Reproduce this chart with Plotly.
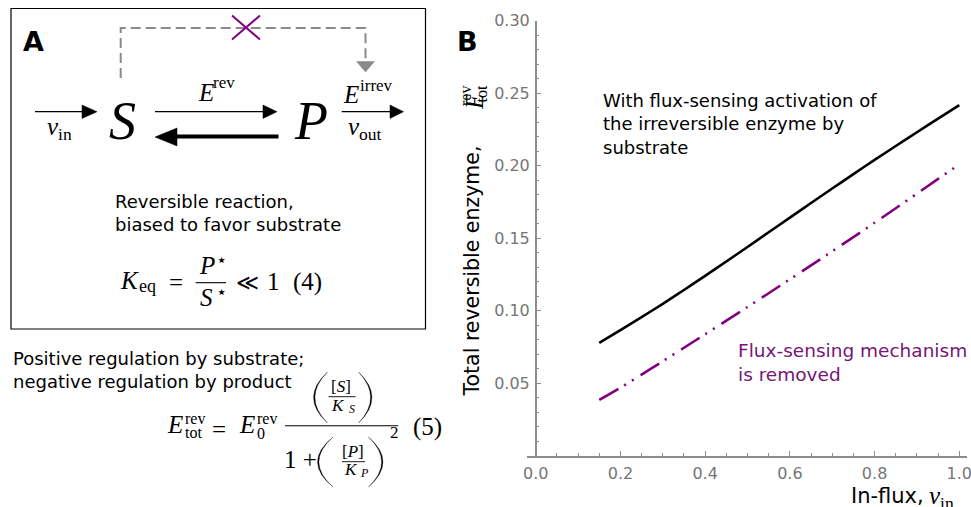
import plotly.graph_objects as go

# ---------------- data ----------------
influx = [0.15, 0.20, 0.25, 0.30, 0.35, 0.40, 0.45, 0.50, 0.55, 0.60,
          0.65, 0.70, 0.75, 0.80, 0.85, 0.90, 0.95, 1.00]
e_tot_flux_sensing = [0.0778, 0.0866, 0.0956, 0.1048, 0.1143, 0.1241, 0.1340, 0.1440, 0.1541, 0.1642,
                      0.1743, 0.1843, 0.1942, 0.2040, 0.2136, 0.2231, 0.2325, 0.2418]
e_tot_no_sensing = [0.0385, 0.0470, 0.0560, 0.0652, 0.0745, 0.0838, 0.0932, 0.1026, 0.1121, 0.1217,
                    0.1313, 0.1410, 0.1508, 0.1607, 0.1707, 0.1808, 0.1909, 0.2010]
x_tick_values = [0.0, 0.2, 0.4, 0.6, 0.8, 1.0]
x_tick_labels = ["0.0", "0.2", "0.4", "0.6", "0.8", "1.0"]
y_tick_values = [0.05, 0.10, 0.15, 0.20, 0.25, 0.30]
y_tick_labels = ["0.05", "0.10", "0.15", "0.20", "0.25", "0.30"]

# ---------------- style ----------------
W, H = 971, 507
SANS = "DejaVu Sans"
SERIF = "Liberation Serif"
PURPLE = "#800080"
PURPLE_TXT = "#761576"
AXIS_GRAY = "#8c8c8c"
TICK_GRAY = "#757575"


def px(x):
    return x / W


def py(y):
    return 1 - y / H


annotations = []
shapes = []


def ann(x, y, text, size, family=SANS, color="black", xa="center", ya="middle",
        angle=0, align="left"):
    annotations.append(dict(
        x=px(x), y=py(y), xref="paper", yref="paper", text=text, showarrow=False,
        font=dict(size=size, family=family, color=color), xanchor=xa, yanchor=ya,
        textangle=angle, align=align, borderpad=0, borderwidth=0))


def seg(x0, y0, x1, y1, color="black", width=1.3, dash=None):
    ln = dict(color=color, width=width)
    if dash:
        ln["dash"] = dash
    shapes.append(dict(type="line", xref="paper", yref="paper",
                       x0=px(x0), y0=py(y0), x1=px(x1), y1=py(y1), line=ln))


def path(cmds, color="black", fill=None, width=1.0, dash=None):
    out = []
    for c in cmds:
        if isinstance(c, str):
            out.append(c)
        else:
            out.append("%.5f,%.5f" % (px(c[0]), py(c[1])))
    ln = dict(color=color, width=width)
    if dash:
        ln["dash"] = dash
    d = dict(type="path", xref="paper", yref="paper", path=" ".join(out), line=ln)
    if fill:
        d["fillcolor"] = fill
    shapes.append(d)


def tri(p1, p2, p3, color="black"):
    path(["M", p1, "L", p2, "L", p3, "Z"], color=color, fill=color, width=0.5)


def paren(xt, xb, yt, yb, thick=1.4):
    # crescent-shaped parenthesis; xt = tips x, xb = bulge x
    ym = (yt + yb) / 2
    sgn = 1 if xb < xt else -1
    c_out = 2 * xb - xt
    c_in = 2 * (xb + sgn * thick) - xt
    path(["M", (xt, yt), "Q", (c_out, ym), (xt, yb), "Q", (c_in, ym), (xt, yt), "Z"],
         color="black", fill="black", width=0.3)


# ---------------- panel A diagram ----------------
shapes.append(dict(type="rect", xref="paper", yref="paper", x0=px(11), y0=py(329),
                   x1=px(425.5), y1=py(8.5), line=dict(color="black", width=1.2)))
ann(33, 42, "<b>A</b>", 27)

# dashed feedback (removed)
path(["M", (120.7, 78), "L", (120.7, 28), "L", (365.5, 28), "L", (365.5, 62)],
     color="#8a8a8a", width=2, dash="10px,5px")
tri((356.5, 61.5), (374.5, 61.5), (365.5, 72), color="#8a8a8a")
seg(232, 15.5, 260, 39.5, color=PURPLE, width=2)
seg(232, 39.5, 260, 15.5, color=PURPLE, width=2)

# influx arrow
seg(35, 111.7, 84, 111.7)
tri((82, 105), (97, 111.7), (82, 118.4))
ann(59, 129, "<i>ν</i><sub>in</sub>", 25, SERIF)

ann(122.5, 121, "<i>S</i>", 54, SERIF)
ann(311, 121, "<i>P</i>", 54, SERIF)

# forward reversible arrow
seg(155, 111.7, 265, 111.7)
tri((263, 105), (277, 111.7), (263, 118.4))
ann(198, 92, "<i>E</i>", 25, SERIF, xa="left")
ann(213, 83, "rev", 17, SERIF, xa="left")

# backward (favoured) arrow
seg(278.5, 136.5, 172, 136.5, width=4.2)
tri((177, 128), (155, 137), (177, 146))

# outflux arrow
seg(341.7, 111.7, 392, 111.7)
tri((390, 105), (403.5, 111.7), (390, 118.4))
ann(343, 94, "<i>E</i>", 25, SERIF, xa="left")
ann(359.5, 86, "irrev", 17, SERIF, xa="left")
ann(365, 129, "<i>ν</i><sub>out</sub>", 25, SERIF)

ann(115, 213.3, "Reversible reaction,<br>biased to favor substrate", 18, xa="left")

# K_eq equation (4)
ann(120, 280, "<i>K</i>", 25, SERIF, xa="left")
ann(139, 286, "eq", 18, SERIF, xa="left")
ann(176, 282, "=", 25, SERIF)
ann(207, 265, "<i>P</i>", 25, SERIF)
ann(221, 259, "⋆", 18, "DejaVu Sans")
seg(195.7, 282.7, 226, 282.7, width=1.1)
ann(206, 297, "<i>S</i>", 25, SERIF)
ann(221, 291, "⋆", 18, "DejaVu Sans")
ann(247.5, 282, "≪", 22, "DejaVu Serif")
ann(273, 281, "1", 25, SERIF)
ann(307.5, 281.5, "(4)", 25, SERIF)

# ---------------- equation (5) ----------------
ann(12.7, 370, "Positive regulation by substrate;<br>negative regulation by product", 18, xa="left")
ann(175, 424, "<i>E</i>", 25, SERIF)
ann(185, 418, "rev", 16, SERIF, xa="left")
ann(185, 432.5, "tot", 16, SERIF, xa="left")
ann(218.5, 429, "=", 25, SERIF)
ann(246.5, 424, "<i>E</i>", 25, SERIF)
ann(257, 418, "rev", 16, SERIF, xa="left")
ann(257, 433, "0", 16, SERIF, xa="left")
seg(285, 425.7, 398.3, 425.7, width=1.1)
# numerator
paren(327.5, 313.5, 372, 423)
paren(358.5, 372, 372, 423)
ann(341.3, 386.5, "[<i>S</i>]", 17, SERIF)
seg(328.5, 396.7, 355.5, 396.7, width=0.9)
ann(338, 405, "<i>K</i>", 17, SERIF)
ann(351.5, 409, "<i>S</i>", 12, SERIF)
# denominator
ann(300, 459.5, "1 +", 25, SERIF)
paren(333, 317.5, 437, 487)
paren(368.5, 383, 437, 487)
ann(352.5, 451.5, "[<i>P</i>]", 17, SERIF)
seg(342, 461.7, 365, 461.7, width=0.9)
ann(351, 469, "<i>K</i>", 17, SERIF)
ann(364, 472.5, "<i>P</i>", 12, SERIF)
ann(394.5, 432.5, "2", 17, SERIF)
ann(427.5, 426.5, "(5)", 25, SERIF)

# ---------------- panel B ----------------
ann(467.5, 42, "<b>B</b>", 27)
ann(471, 397, "Total reversible enzyme,", 20.5, angle=-90, ya="bottom")
ann(474, 102, "<i>E</i>", 25, SERIF, angle=-90)
ann(466, 86, "rev", 16, SERIF, angle=-90, ya="top")
ann(481, 86, "tot", 16, SERIF, angle=-90, ya="top")

ann(924, 495.5, "In-flux,", 21, xa="right")
ann(929, 497, "<i>ν</i><sub>in</sub>", 25, SERIF, xa="left")

ann(603.3, 124.2, "With flux-sensing activation of<br>the irreversible enzyme by<br>substrate",
    18, xa="left")
ann(738.3, 362, "Flux-sensing mechanism<br>is removed", 18.5, color=PURPLE_TXT, xa="left")

fig = go.Figure()
fig.add_trace(go.Scatter(x=influx, y=e_tot_flux_sensing, mode="lines",
                         line=dict(color="black", width=2.6, shape="spline", smoothing=0.8),
                         hoverinfo="skip"))
fig.add_trace(go.Scatter(x=influx, y=e_tot_no_sensing, mode="lines",
                         line=dict(color=PURPLE, width=2.6, dash="22px,7px,2px,7px,2px,8px",
                                   shape="spline", smoothing=0.8),
                         hoverinfo="skip"))

x0_px, x1_px = 535.7, 959.3       # pixel positions of x = 0 and x = 1
left_px, right_px = 526.7, 966.7
xr = [(left_px - x0_px) / (x1_px - x0_px), (right_px - x0_px) / (x1_px - x0_px)]

fig.update_layout(
    width=W, height=H, margin=dict(l=0, r=0, t=0, b=0, autoexpand=False),
    paper_bgcolor="white", plot_bgcolor="white", showlegend=False,
    xaxis=dict(domain=[px(left_px), px(right_px)], range=xr, showgrid=False, zeroline=False,
               automargin=False,
               showline=True, linecolor=AXIS_GRAY, linewidth=1.5,
               tickmode="array", tickvals=x_tick_values, ticktext=x_tick_labels,
               ticks="inside", ticklen=5, tickwidth=1, tickcolor=AXIS_GRAY,
               tickfont=dict(family=SANS, size=16, color=TICK_GRAY), ticklabelstandoff=2,
               ticklabeloverflow="allow",
               minor=dict(tickmode="linear", tick0=0, dtick=0.05, ticks="inside", ticklen=3,
                          tickwidth=1, tickcolor=AXIS_GRAY, showgrid=False),
               fixedrange=True),
    yaxis=dict(domain=[py(455.8), py(20.7)], range=[0, 0.30], anchor="free", position=px(x0_px),
               automargin=False,
               showgrid=False, zeroline=False, showline=True, linecolor=AXIS_GRAY, linewidth=1.5,
               tickmode="array", tickvals=y_tick_values, ticktext=y_tick_labels,
               ticks="inside", ticklen=5, tickwidth=1, tickcolor=AXIS_GRAY,
               tickfont=dict(family=SANS, size=16, color=TICK_GRAY), ticklabelstandoff=2,
               ticklabeloverflow="allow",
               minor=dict(tickmode="linear", tick0=0, dtick=0.01, ticks="inside", ticklen=3,
                          tickwidth=1, tickcolor=AXIS_GRAY, showgrid=False),
               fixedrange=True),
    annotations=annotations, shapes=shapes,
)

fig.write_html("out.html", config=dict(displayModeBar=False),
               post_script="document.body.style.margin='0px';document.body.style.overflow='hidden';")
